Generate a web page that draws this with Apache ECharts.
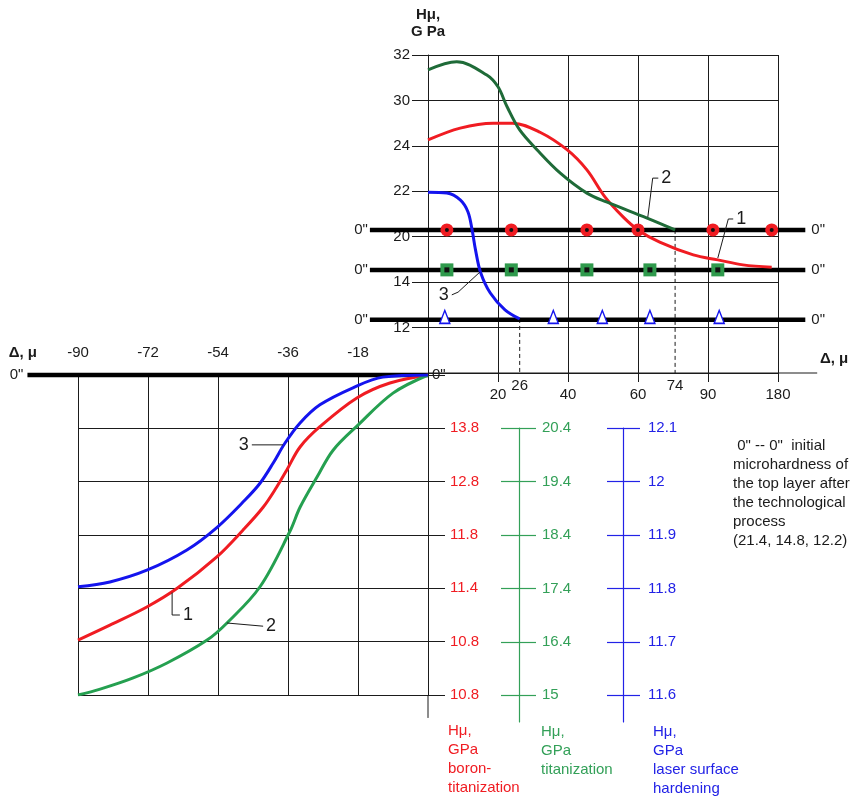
<!DOCTYPE html>
<html><head><meta charset="utf-8">
<script src="https://cdn.jsdelivr.net/npm/echarts@6/dist/echarts.min.js"></script>
<style>html,body{margin:0;padding:0;background:#fff}#c{width:859px;height:798px}</style>
</head><body><div id="c"></div>
<script>
// ---------- DATA ----------
// Upper panel: x = column index of the labelled Δ grid, y = row index of the labelled Hμ grid
const upperXLabels = ['', '20', '40', '60', '90', '180'];          // columns 0..5
const upperYLabels = ['', '12', '14', '20', '22', '24', '30', '32']; // rows -1..6
const upperCurve1 = [[0,4.13],[0.46,4.39],[0.93,4.5],[1.21,4.5],[1.6,4.3],[1.99,3.91],[2.27,3.47],[2.53,2.87],[2.79,2.43],[3.0,2.15],[3.31,1.88],[3.79,1.6],[4.14,1.49],[4.5,1.38],[4.91,1.33]];
const upperCurve2 = [[0,5.67],[0.41,5.85],[0.84,5.56],[1.0,5.3],[1.13,4.86],[1.31,4.35],[1.56,3.91],[1.89,3.4],[2.27,2.96],[2.56,2.76],[3.13,2.41],[3.53,2.15]];
const upperCurve3 = [[0,2.98],[0.27,2.96],[0.46,2.81],[0.57,2.55],[0.63,2.15],[0.68,1.7],[0.75,1.22],[0.89,0.76],[1.1,0.39],[1.31,0.19]];
const initialLevels = [2.15, 1.27, 0.17];     // rows of the 0"-0" lines (21.4, 14.8, 12.2)
const initialLineSpan = [-0.83, 5.39];        // columns
const circleX = [0.27, 1.19, 2.27, 3.0, 4.07, 4.91];
const squareX = [0.27, 1.19, 2.27, 3.17, 4.14];
const triangleX = [0.24, 1.79, 2.49, 3.17, 4.16];
const depthMarks = [{x:1.31, from:0.19, label:'26'}, {x:3.53, from:2.15, label:'74'}];
const upperBaseline = [0, 5.56];
const upperCallouts = [
  {label:'2', pos:'right', pts:[[3.29,3.29],[3.21,3.29],[3.14,2.43]]},
  {label:'1', pos:'right', pts:[[4.36,2.39],[4.29,2.39],[4.14,1.53]]},
  {label:'3', pos:'left',  pts:[[0.34,0.72],[0.43,0.78],[0.74,1.22]]}
];
// Lower panel: x = Δ, μ ; y = row index (0 = 0" line, 6 = bottom)
const lowerXMin = -90, lowerXStep = 18;
const redScaleLabels   = ['', '13.8', '12.8', '11.8', '11.4', '10.8', '10.8'];
const greenScaleLabels = ['', '20.4', '19.4', '18.4', '17.4', '16.4', '15'];
const blueScaleLabels  = ['', '12.1', '12', '11.9', '11.8', '11.7', '11.6'];
const lowerCurve1 = [[-90,4.97],[-81.8,4.69],[-72.3,4.35],[-64.5,4.0],[-54.3,3.41],[-47.6,2.91],[-42.4,2.48],[-38.9,2.1],[-36.3,1.78],[-32.9,1.35],[-27.8,0.97],[-18.3,0.43],[-9.8,0.15],[0,0]];
const lowerCurve2 = [[-90,6.0],[-84.3,5.89],[-75.8,5.68],[-67.1,5.4],[-56.8,4.97],[-51.7,4.65],[-43.2,3.97],[-35.5,2.93],[-32.9,2.48],[-28.5,1.91],[-24.4,1.41],[-18,0.94],[-9,0.34],[0,0]];
const lowerCurve3 = [[-90,3.97],[-81.8,3.88],[-72.3,3.66],[-62,3.28],[-54.3,2.86],[-47,2.34],[-43.2,2.03],[-39.8,1.65],[-36.8,1.28],[-32.9,0.9],[-27.8,0.56],[-19.3,0.24],[-11.6,0.04],[0,0]];
const lowerBaseline = [-103, 0];
const redAxisExtension = [6, 6.43];
const lowerCallouts = [
  {label:'3', pos:'left',  pts:[[-45.3,1.31],[-37.3,1.31]]},
  {label:'1', pos:'right', pts:[[-63.8,4.5],[-65.8,4.5],[-65.8,4.08]]},
  {label:'2', pos:'right', pts:[[-42.4,4.71],[-51.7,4.65]]}
];
const noteText = ' 0" -- 0"  initial\nmicrohardness of\nthe top layer after\nthe technological\nprocess\n(21.4, 14.8, 12.2)';

// ---------- STYLE ----------
const FONT = '"Liberation Sans", Arial, sans-serif';
const INK = '#1b1b1b';
const RED = '#f01c22', GREEN_DARK = '#1f6b38', GREEN = '#25a050', BLUE = '#1414ee';
const GREEN_AX = '#33a058', BLUE_AX = '#2222e6';
const txt = (c, s) => ({color: c, fontSize: s || 15, fontFamily: FONT});

function curve(data, color, xi, yi) {
  return {type:'line', xAxisIndex:xi, yAxisIndex:yi, data, smooth:0.35, symbol:'none',
    lineStyle:{color, width:3}, z:4};
}
// straight polyline (may run outside the grid) drawn through the axes with api.coord
function segment(pts, xi, yi, style, labels, z) {
  return {type:'custom', xAxisIndex:xi, yAxisIndex:yi, z: z || 3, clip:false, silent:true,
    data: pts,
    renderItem(params, api) {
      if (params.dataIndex !== 0) return null;
      const coords = pts.map(p => api.coord(p));
      const children = [{type:'polyline', shape:{points:coords},
        style:{stroke:style.color, lineWidth:style.width, lineDash:style.type || null, fill:null}}];
      (labels || []).forEach((lab, i) => {
        if (!lab) return;
        const c = coords[i], d = lab.distance || 4;
        let x = c[0], y = c[1], align = 'center', va = 'middle';
        if (lab.position === 'left') { x -= d; align = 'right'; }
        else if (lab.position === 'right') { x += d; align = 'left'; }
        else if (lab.position === 'bottom') { y += d; va = 'top'; }
        children.push({type:'text', x, y, style:{text:lab.formatter, fill:lab.color || INK,
          fontSize:lab.fontSize || 15, fontFamily:FONT, align, verticalAlign:va}});
      });
      return {type:'group', children};
    }};
}
function callout(c, xi, yi) {
  const lab = {position:c.pos, formatter:c.label, distance:3, color:INK, fontSize:18};
  return segment(c.pts, xi, yi, {color:INK, width:1}, [lab], 5);
}

const series = [];
// upper 0"-0" lines
initialLevels.forEach(lv => {
  series.push(segment([[initialLineSpan[0], lv],[initialLineSpan[1], lv]], 0, 0,
    {color:'#000', width:4.5},
    [{position:'left', formatter:'0"', distance:2}, {position:'right', formatter:'0"', distance:6}], 3));
});
// upper baseline extension
series.push(segment([[upperBaseline[0], -1],[upperBaseline[1], -1]], 0, 0, {color:INK, width:1}, null, 2));
// dashed depth marks
depthMarks.forEach(d => {
  series.push(segment([[d.x, d.from],[d.x, -1]], 0, 0, {color:INK, width:1, type:[4,3]},
    [null, {position:'bottom', formatter:d.label, distance:5}], 2));
});
// curves upper
series.push(curve(upperCurve1, RED, 0, 0));
series.push(curve(upperCurve2, GREEN_DARK, 0, 0));
series.push(curve(upperCurve3, BLUE, 0, 0));
// markers
series.push({type:'scatter', xAxisIndex:0, yAxisIndex:0, z:6, symbol:'circle', symbolSize:13,
  itemStyle:{color:RED, opacity:1}, data: circleX.map(x => [x, initialLevels[0]])});
series.push({type:'scatter', xAxisIndex:0, yAxisIndex:0, z:6, symbol:'rect', symbolSize:13,
  itemStyle:{color:'#2f9a4c', opacity:1}, data: squareX.map(x => [x, initialLevels[1]])});
series.push({type:'scatter', xAxisIndex:0, yAxisIndex:0, z:7, symbol:'circle', symbolSize:4,
  itemStyle:{color:'#111', opacity:1}, data: circleX.map(x => [x, initialLevels[0]])});
series.push({type:'scatter', xAxisIndex:0, yAxisIndex:0, z:7, symbol:'rect', symbolSize:5,
  itemStyle:{color:'#111', opacity:1}, data: squareX.map(x => [x, initialLevels[1]])});
series.push({type:'scatter', xAxisIndex:0, yAxisIndex:0, z:6, symbol:'triangle', symbolSize:[10,13], symbolOffset:[0,-3],
  itemStyle:{color:'#fff', borderColor:BLUE, borderWidth:1.5, opacity:1}, data: triangleX.map(x => [x, initialLevels[2]])});
upperCallouts.forEach(c => series.push(callout(c, 0, 0)));

// lower
series.push(segment([[lowerBaseline[0], 0],[lowerBaseline[1], 0]], 1, 1, {color:'#000', width:4.5},
  [{position:'left', formatter:'0"', distance:4}, {position:'right', formatter:'0"', distance:4}], 3));
series.push(segment([[0, redAxisExtension[0]],[0, redAxisExtension[1]]], 1, 1, {color:INK, width:1}, null, 2));
series.push(curve(lowerCurve1, RED, 1, 1));
series.push(curve(lowerCurve2, GREEN, 1, 1));
series.push(curve(lowerCurve3, BLUE, 1, 1));
lowerCallouts.forEach(c => series.push(callout(c, 1, 1)));

const scaleRows = [1,2,3,4,5,6];
function scaleAxis(gi, color, labels, margin, name, pad) {
  return {gridIndex:gi, type:'value', position:'right', inverse:true, min:1, max:6.5,
    axisLine:{show:true, onZero:false, lineStyle:{color, width:1.2}},
    axisTick:{show:true, length:17, customValues:scaleRows, lineStyle:{color, width:1.2}},
    axisLabel:{customValues:scaleRows, margin, formatter: v => labels[v] || '', ...txt(color)},
    splitLine:{show:true, lineStyle:{color, width:1.2}},
    name, nameLocation:'end', nameGap:0, nameMoveOverlap:false,
    nameTextStyle:{...txt(color), align:'left', verticalAlign:'top', lineHeight:19, padding:[0,0,0,pad]}};
}

const option = {
  animation:false,
  backgroundColor:'#fff',
  grid:[
    {left:428, top:55, width:350, height:318},
    {left:78, top:375, width:350, height:320},
    {left:501, top:428, width:18, height:294},
    {left:607, top:428, width:16, height:294}
  ],
  xAxis:[
    {gridIndex:0, type:'value', min:0, max:5, interval:1, position:'bottom',
     axisLine:{show:true, onZero:false, lineStyle:{color:INK}}, axisTick:{show:true, length:9, lineStyle:{color:INK}},
     axisLabel:{margin:14, formatter: v => upperXLabels[v] || '', ...txt(INK)},
     splitLine:{show:true, lineStyle:{color:INK, width:1}},
     name:'Δ, μ', nameLocation:'end', nameGap:42, nameMoveOverlap:false,
     nameTextStyle:{...txt(INK), fontWeight:'bold', align:'left', verticalAlign:'bottom', padding:[0,0,7,0]}},
    {gridIndex:1, type:'value', min:lowerXMin, max:0, interval:lowerXStep, position:'top',
     axisLine:{show:false, onZero:false}, axisTick:{show:false},
     axisLabel:{margin:15, formatter: v => v === 0 ? '' : String(v), ...txt(INK)},
     splitLine:{show:true, lineStyle:{color:INK, width:1}},
     name:'Δ, μ', nameLocation:'start', nameGap:41, nameMoveOverlap:false,
     nameTextStyle:{...txt(INK), fontWeight:'bold', align:'right', verticalAlign:'bottom', padding:[0,0,15,0]}},
    {gridIndex:2, type:'value', show:false, min:0, max:1},
    {gridIndex:3, type:'value', show:false, min:0, max:1}
  ],
  yAxis:[
    {gridIndex:0, type:'value', min:-1, max:6, interval:1,
     axisLine:{show:true, onZero:false, lineStyle:{color:INK}}, axisTick:{show:true, length:16, lineStyle:{color:INK}},
     axisLabel:{margin:18, formatter: v => upperYLabels[v + 1] || '', ...txt(INK)},
     splitLine:{show:true, lineStyle:{color:INK, width:1}},
     name:'Hμ,\nG Pa', nameLocation:'end', nameGap:15, nameMoveOverlap:false,
     nameTextStyle:{...txt(INK), fontWeight:'bold', align:'center', verticalAlign:'bottom', lineHeight:17}},
    {gridIndex:1, type:'value', position:'right', inverse:true, min:0, max:6, interval:1,
     axisLine:{show:true, onZero:false, lineStyle:{color:INK}}, axisTick:{show:true, length:17, lineStyle:{color:INK}},
     axisLabel:{margin:22, formatter: v => redScaleLabels[v] || '', ...txt(RED)},
     splitLine:{show:true, lineStyle:{color:INK, width:1}},
     name:'Hμ,\nGPa\nboron-\ntitanization', nameLocation:'end', nameGap:26, nameMoveOverlap:false,
     nameTextStyle:{...txt(RED), align:'left', verticalAlign:'top', lineHeight:19, padding:[0,0,0,20]}},
    scaleAxis(2, GREEN_AX, greenScaleLabels, 23, 'Hμ,\nGPa\ntitanization', 22),
    scaleAxis(3, BLUE_AX, blueScaleLabels, 25, 'Hμ,\nGPa\nlaser surface\nhardening', 30)
  ],
  graphic:[{type:'text', left:733, top:436,
    style:{text:noteText, fontSize:15, fontFamily:FONT, fill:INK, lineHeight:19}}],
  series
};
const chart = echarts.init(document.getElementById('c'));
chart.setOption(option);
</script></body></html>
